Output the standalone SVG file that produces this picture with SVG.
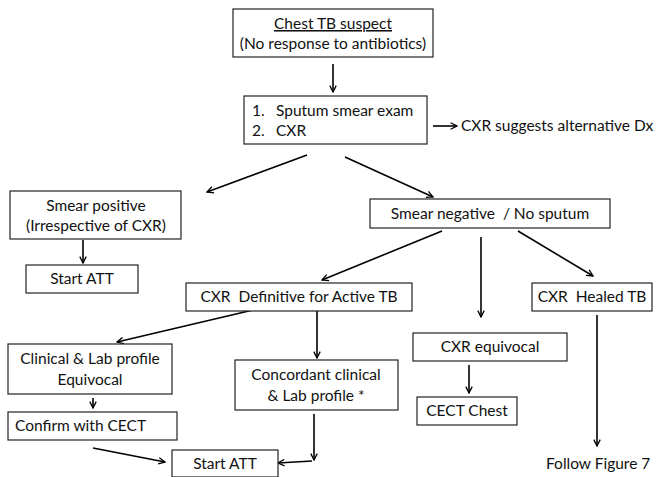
<svg xmlns="http://www.w3.org/2000/svg" width="658" height="477" viewBox="0 0 658 477">
<defs>
<marker id="ah" viewBox="0 0 10 10" refX="9" refY="5" markerWidth="8" markerHeight="8" markerUnits="userSpaceOnUse" orient="auto">
<path d="M1,1 L9,5 L1,9" fill="none" stroke="#000" stroke-width="1.6"/>
</marker>
<style>
rect{fill:#fff;stroke:#222;stroke-width:1.2}
text{font-family:Lato,"Liberation Sans",sans-serif;font-size:15.5px;fill:#111;white-space:pre}
.c{text-anchor:middle}
.e line,.e path{stroke:#000;stroke-width:1.6;fill:none}
</style>
</defs>
<rect x="0" y="0" width="658" height="477" style="fill:#fff;stroke:none"/>
<g class="e" id="connectors">
<line x1="333" y1="64" x2="333" y2="92" marker-end="url(#ah)"/>
<line x1="433" y1="126" x2="457" y2="126" marker-end="url(#ah)"/>
<line x1="307" y1="155" x2="207" y2="192" marker-end="url(#ah)"/>
<line x1="345" y1="157" x2="433" y2="197" marker-end="url(#ah)"/>
<line x1="83" y1="240" x2="83" y2="263" marker-end="url(#ah)"/>
<line x1="442" y1="231" x2="322" y2="280" marker-end="url(#ah)"/>
<line x1="481" y1="237" x2="481" y2="317" marker-end="url(#ah)"/>
<line x1="518" y1="231" x2="593" y2="276" marker-end="url(#ah)"/>
<line x1="253" y1="310" x2="117" y2="342" marker-end="url(#ah)"/>
<line x1="317" y1="310" x2="317" y2="358" marker-end="url(#ah)"/>
<line x1="597" y1="315" x2="597" y2="446" marker-end="url(#ah)"/>
<line x1="93" y1="398" x2="93" y2="408" marker-end="url(#ah)"/>
<line x1="469" y1="365" x2="469" y2="393" marker-end="url(#ah)"/>
<line x1="93" y1="448" x2="165" y2="462" marker-end="url(#ah)"/>
<path d="M314,414 L314,460" marker-end="url(#ah)"/>
<line x1="312" y1="461" x2="278" y2="463" marker-end="url(#ah)"/>
</g>
<g id="n1"><rect x="233" y="9" width="200" height="48"/>
<text class="c" x="333" y="29" text-decoration="underline">Chest TB suspect</text>
<text class="c" x="333" y="49">(No response to antibiotics)</text></g>
<g id="n2"><rect x="244" y="96" width="183" height="48"/>
<text x="252" y="116">1.</text><text x="276" y="116">Sputum smear exam</text>
<text x="252" y="136">2.</text><text x="276" y="136">CXR</text></g>
<g id="n3"><text x="461" y="131">CXR suggests alternative Dx</text></g>
<g id="n4"><rect x="10" y="191" width="171" height="48"/>
<text class="c" x="96" y="211">Smear positive</text>
<text class="c" x="96" y="231">(Irrespective of CXR)</text></g>
<g id="n5"><rect x="26" y="265" width="112" height="28"/>
<text class="c" x="82" y="284">Start ATT</text></g>
<g id="n6"><rect x="370" y="199" width="240" height="29"/>
<text class="c" x="490" y="219">Smear negative  / No sputum</text></g>
<g id="n7"><rect x="186" y="283" width="226" height="28"/>
<text class="c" x="299" y="302">CXR  Definitive for Active TB</text></g>
<g id="n8"><rect x="532" y="283" width="120" height="28"/>
<text class="c" x="592" y="302">CXR  Healed TB</text></g>
<g id="n9"><rect x="8" y="344" width="164" height="50"/>
<text class="c" x="90" y="364">Clinical &amp; Lab profile</text>
<text class="c" x="90" y="385">Equivocal</text></g>
<g id="n10"><rect x="8" y="412" width="169" height="28"/>
<text x="15" y="431">Confirm with CECT</text></g>
<g id="n11"><rect x="235" y="360" width="163" height="50"/>
<text class="c" x="316" y="380">Concordant clinical</text>
<text class="c" x="316" y="401">&amp; Lab profile *</text></g>
<g id="n12"><rect x="413" y="333" width="154" height="28"/>
<text class="c" x="490" y="352">CXR equivocal</text></g>
<g id="n13"><rect x="417" y="397" width="100" height="28"/>
<text class="c" x="467" y="416">CECT Chest</text></g>
<g id="n14"><rect x="172" y="450" width="106" height="27"/>
<text class="c" x="225" y="469">Start ATT</text></g>
<g id="n15"><text x="546" y="469">Follow Figure 7</text></g>
</svg>
